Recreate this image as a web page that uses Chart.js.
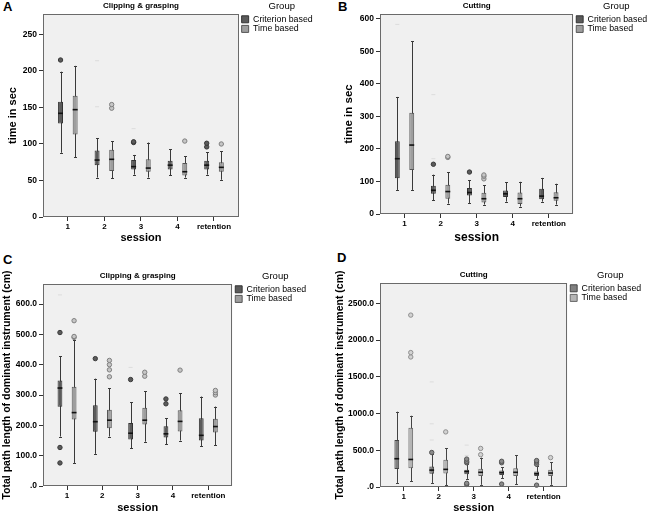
<!DOCTYPE html>
<html>
<head>
<meta charset="utf-8">
<script src="https://cdn.jsdelivr.net/npm/chart.js@4.4.1/dist/chart.umd.min.js"></script>
<style>
  html, body { margin: 0; padding: 0; background: #fff; overflow: hidden; }
  body { width: 650px; height: 515px; position: relative; font-family: "Liberation Sans", Arial, sans-serif; }
  canvas { position: absolute; }
  .letter { position: absolute; font-weight: bold; font-size: 13px; line-height: 1; }
</style>
</head>
<body>
<div class="letter" style="left:3px;top:0px">A</div>
<div class="letter" style="left:338px;top:0px">B</div>
<div class="letter" style="left:3px;top:253px">C</div>
<div class="letter" style="left:337px;top:251px">D</div>
<canvas id="chartA" width="325" height="250" style="left:0;top:0"></canvas>
<canvas id="chartB" width="340" height="250" style="left:325px;top:0"></canvas>
<canvas id="chartC" width="325" height="260" style="left:0;top:255px"></canvas>
<canvas id="chartD" width="330" height="260" style="left:325px;top:255px"></canvas>
<script>
// sessions on the x axis
const sessions = ['1', '2', '3', '4', 'retention'];
const sessionPos = [1, 2, 3, 4, 5];
const groupNames = ['Criterion based', 'Time based'];

// each box: [lower whisker, q1, median, q3, upper whisker]
// A - clipping & grasping, time in sec
const clipTimeCriterion = [[88, 128, 142, 158, 199], [54, 71, 78, 91, 108], [58, 65, 69, 78, 85], [57, 65, 71, 77, 93], [58, 65, 71, 77, 89]];
const clipTimeTimeBased = [[82, 113, 147, 166, 207], [53, 63, 79, 92, 104], [54, 62, 67, 79, 102], [54, 57, 62, 74, 83], [51, 62, 68, 75, 90]];
const clipTimeCriterionOut = [[215], [], [102, 103], [], [96, 101]];
const clipTimeTimeBasedOut = [[], [149, 154], [], [104], [100]];
const clipTimeCriterionFar = [[], [151, 214], [121], [], []];
const clipTimeTicks = [0, 50, 100, 150, 200, 250];

// B - cutting, time in sec
const cutTimeCriterion = [[74, 110, 170, 224, 360], [43, 62, 73, 87, 121], [34, 57, 66, 80, 104], [38, 52, 62, 72, 98], [38, 45, 55, 78, 111]];
const cutTimeTimeBased = [[74, 135, 212, 311, 532], [32, 47, 69, 90, 129], [29, 35, 47, 65, 88], [23, 31, 47, 66, 99], [29, 41, 50, 67, 93]];
const cutTimeCriterionOut = [[], [153], [129], [], []];
const cutTimeTimeBasedOut = [[], [174, 177], [108, 116, 120], [], []];
const cutTimeCriterionFar = [[583], [170, 367], [], [], []];
const cutTimeTicks = [0, 100, 200, 300, 400, 500, 600];

// C - clipping & grasping, path length (cm)
const clipPathCriterion = [[163, 261, 323, 348, 427], [106, 179, 212, 266, 354], [124, 153, 174, 208, 276], [137, 160, 172, 197, 223], [132, 150, 167, 223, 295]];
const clipPathTimeBased = [[76, 219, 242, 327, 483], [163, 190, 217, 251, 322], [146, 203, 217, 258, 312], [150, 180, 213, 250, 305], [134, 176, 196, 222, 262]];
const clipPathCriterionOut = [[76, 127, 506], [420], [351], [271, 287], []];
const clipPathTimeBasedOut = [[490, 493, 545], [360, 383, 400, 414], [362, 375], [382], [300, 308, 315]];
const clipPathCriterionFar = [[630], [], [391], [], []];
const clipPathTicks = [0, 100, 200, 300, 400, 500, 600];

// D - cutting, path length (cm)
const cutPathCriterion = [[55, 245, 385, 640, 1025], [55, 180, 230, 280, 450], [110, 175, 210, 235, 310], [120, 165, 195, 225, 270], [110, 150, 180, 210, 290]];
const cutPathTimeBased = [[80, 255, 375, 805, 970], [25, 185, 240, 370, 530], [30, 150, 200, 250, 400], [35, 150, 200, 255, 430], [30, 150, 190, 235, 340]];
const cutPathCriterionOut = [[], [470], [35, 50, 330, 350, 380], [40, 330, 350], [25, 310, 340, 360]];
const cutPathTimeBasedOut = [[1770, 1830, 2340], [750], [440, 525], [], [400]];
const cutPathCriterionFar = [[], [640, 860, 1430], [430, 570], [], []];
const cutPathTicks = [0, 500, 1000, 1500, 2000, 2500];

Chart.defaults.font.family = '"Liberation Sans", Arial, sans-serif';
Chart.defaults.color = '#000';

const darkGreys = { critFill: '#5b5b5b', critEdge: '#333', timeFill: '#9e9e9e', timeEdge: '#555',
  critDot: '#5b5b5b', critDotEdge: '#3a3a3a', timeDot: '#c6c6c6', timeDotEdge: '#808080', whisker: '#3a3a3a' };
const lightGreys = { critFill: '#808080', critEdge: '#444', timeFill: '#b5b5b5', timeEdge: '#666',
  critDot: '#8a8a8a', critDotEdge: '#555', timeDot: '#d2d2d2', timeDotEdge: '#909090', whisker: '#444' };

// whiskers, caps, medians and outliers are drawn on top of the floating bars
const boxParts = {
  id: 'boxParts',
  beforeDraw(chart) {
    const { ctx, chartArea: a } = chart;
    ctx.save();
    ctx.fillStyle = '#f0f0f0';
    ctx.fillRect(a.left, a.top, a.width, a.height);
    ctx.restore();
  },
  beforeDatasetsDraw(chart) {
    const { ctx } = chart;
    const y = chart.scales.y;
    ctx.save();
    ctx.lineWidth = 1;
    chart.data.datasets.forEach((ds, i) => {
      chart.getDatasetMeta(i).data.forEach((bar, j) => {
        const s = ds.stats[j];
        const x = Math.round(bar.x) + 0.5;
        ctx.strokeStyle = ds.whiskerColor;
        ctx.beginPath();
        ctx.moveTo(x, y.getPixelForValue(s[0]));
        ctx.lineTo(x, y.getPixelForValue(s[4]));
        ctx.stroke();
        [s[0], s[4]].forEach(v => {
          const py = Math.round(y.getPixelForValue(v)) + 0.5;
          ctx.beginPath();
          ctx.moveTo(x - 1.5, py);
          ctx.lineTo(x + 1.5, py);
          ctx.stroke();
        });
      });
    });
    ctx.restore();
  },
  afterDatasetsDraw(chart) {
    const { ctx, chartArea: a } = chart;
    const y = chart.scales.y;
    ctx.save();
    chart.data.datasets.forEach((ds, i) => {
      chart.getDatasetMeta(i).data.forEach((bar, j) => {
        const x = bar.x;
        const half = bar.width / 2;
        // median
        ctx.strokeStyle = '#111';
        ctx.lineWidth = 1.6;
        const my = y.getPixelForValue(ds.stats[j][2]);
        ctx.beginPath();
        ctx.moveTo(x - half, my);
        ctx.lineTo(x + half, my);
        ctx.stroke();
        // far values, very faint
        (ds.far[j] || []).forEach(v => {
          const py = y.getPixelForValue(v);
          ctx.strokeStyle = '#dcdcdc';
          ctx.lineWidth = 1;
          ctx.beginPath();
          ctx.moveTo(x - 2, py);
          ctx.lineTo(x + 2, py);
          ctx.stroke();
        });
        // outliers
        (ds.out[j] || []).forEach(v => {
          ctx.beginPath();
          ctx.arc(x, y.getPixelForValue(v), 2.2, 0, Math.PI * 2);
          ctx.fillStyle = ds.dotFill;
          ctx.fill();
          ctx.strokeStyle = ds.dotEdge;
          ctx.lineWidth = 1;
          ctx.stroke();
        });
      });
    });
    ctx.strokeStyle = '#6a6a6a';
    ctx.lineWidth = 1;
    ctx.strokeRect(Math.round(a.left) + 0.5, Math.round(a.top) + 0.5, Math.round(a.width) - 1, Math.round(a.height) - 1);
    ctx.restore();
  }
};

function group(label, stats, out, far, fill, edge, dotFill, dotEdge, whisker) {
  return {
    label: label,
    data: stats.map((s, i) => ({ x: sessionPos[i], y: [s[1], s[3]] })),
    stats: stats,
    out: out,
    far: far,
    backgroundColor: fill,
    borderColor: edge,
    borderWidth: 1,
    borderSkipped: false,
    dotFill: dotFill,
    dotEdge: dotEdge,
    whiskerColor: whisker,
    barPercentage: 0.34,
    categoryPercentage: 0.8
  };
}

function drawPanel(p) {
  const c = p.colors;
  new Chart(document.getElementById(p.id), {
    type: 'bar',
    data: {
      datasets: [
        group(groupNames[0], p.crit, p.critOut, p.critFar, c.critFill, c.critEdge, c.critDot, c.critDotEdge, c.whisker),
        group(groupNames[1], p.time, p.timeOut, [[], [], [], [], []], c.timeFill, c.timeEdge, c.timeDot, c.timeDotEdge, c.whisker)
      ]
    },
    options: {
      responsive: false,
      animation: false,
      devicePixelRatio: 1,
      layout: { padding: p.pad },
      scales: {
        x: {
          type: 'linear',
          min: 0.32,
          max: 5.68,
          offset: false,
          grid: { display: true, drawOnChartArea: false, offset: false, tickLength: 4, color: '#333' },
          border: { display: false },
          afterBuildTicks: s => { s.ticks = sessionPos.map(v => ({ value: v })); },
          afterFit: s => { s.height = p.xAxisH; },
          ticks: {
            autoSkip: false, maxRotation: 0, padding: 1,
            font: { size: 8, weight: 'bold' },
            callback: v => sessions[sessionPos.indexOf(v)]
          },
          title: { display: true, text: 'session', font: { size: p.xTitleSize, weight: 'bold' }, padding: 0 }
        },
        y: {
          min: 0,
          max: p.yMax,
          grid: { display: true, drawOnChartArea: false, tickLength: 4, color: '#333' },
          border: { display: false },
          afterBuildTicks: s => { s.ticks = p.ticks.map(v => ({ value: v })); },
          afterFit: s => { s.width = p.left; },
          ticks: { padding: 2, font: { size: 8.5, weight: 'bold' }, callback: p.fmt },
          title: { display: true, text: p.yTitle, font: { size: p.yTitleSize, weight: 'bold' }, padding: { top: p.yTitlePad, bottom: 0 } }
        },
        gap: {
          type: 'linear', position: 'right', display: true,
          grid: { display: false }, border: { display: false }, ticks: { display: false },
          afterFit: s => { s.width = 2; }
        }
      },
      plugins: {
        title: {
          display: true, text: p.title, fullSize: false,
          font: { size: 8, weight: 'bold' }, padding: { top: 1, bottom: 3 }
        },
        legend: {
          position: 'right', align: 'start', maxWidth: 200,
          title: { display: true, text: 'Group', font: { size: 9.5 }, padding: { top: 1.3, bottom: 1 } },
          labels: { boxWidth: 7, boxHeight: 7, padding: 0.8, font: { size: 8.8 }, color: '#000' }
        },
        tooltip: { enabled: false }
      }
    },
    plugins: [boxParts]
  });
}

const plainTick = v => String(v);
const decimalTick = v => (v === 0 ? '.0' : v.toFixed(1));

drawPanel({
  id: 'chartA', title: 'Clipping & grasping', yTitle: 'time in sec', yTitleSize: 11, yTitlePad: 6.4,
  xTitleSize: 11, xAxisH: 28, left: 43, pad: { top: 0.4, right: 2.3, bottom: 5, left: 0 },
  yMax: 278, ticks: clipTimeTicks, fmt: plainTick, colors: darkGreys,
  crit: clipTimeCriterion, time: clipTimeTimeBased, critOut: clipTimeCriterionOut,
  timeOut: clipTimeTimeBasedOut, critFar: clipTimeCriterionFar
});
drawPanel({
  id: 'chartB', title: 'Cutting', yTitle: 'time in sec', yTitleSize: 11.5, yTitlePad: 17.1,
  xTitleSize: 12, xAxisH: 31, left: 55, pad: { top: 0.4, right: 7.8, bottom: 5, left: 0 },
  yMax: 615, ticks: cutTimeTicks, fmt: plainTick, colors: darkGreys,
  crit: cutTimeCriterion, time: cutTimeTimeBased, critOut: cutTimeCriterionOut,
  timeOut: cutTimeTimeBasedOut, critFar: cutTimeCriterionFar
});
drawPanel({
  id: 'chartC', title: 'Clipping & grasping', yTitle: 'Total path length of dominant instrument (cm)',
  yTitleSize: 10.5, yTitlePad: 0.8,
  xTitleSize: 11, xAxisH: 29, left: 43, pad: { top: 15.4, right: 8.8, bottom: 0, left: 0 },
  yMax: 666, ticks: clipPathTicks, fmt: decimalTick, colors: darkGreys,
  crit: clipPathCriterion, time: clipPathTimeBased, critOut: clipPathCriterionOut,
  timeOut: clipPathTimeBasedOut, critFar: clipPathCriterionFar
});
drawPanel({
  id: 'chartD', title: 'Cutting', yTitle: 'Total path length of dominant instrument (cm)',
  yTitleSize: 10.5, yTitlePad: 8.7,
  xTitleSize: 11, xAxisH: 28, left: 55, pad: { top: 14.4, right: 3.8, bottom: 0, left: 0 },
  yMax: 2777, ticks: cutPathTicks, fmt: decimalTick, colors: lightGreys,
  crit: cutPathCriterion, time: cutPathTimeBased, critOut: cutPathCriterionOut,
  timeOut: cutPathTimeBasedOut, critFar: cutPathCriterionFar
});
</script>
</body>
</html>
